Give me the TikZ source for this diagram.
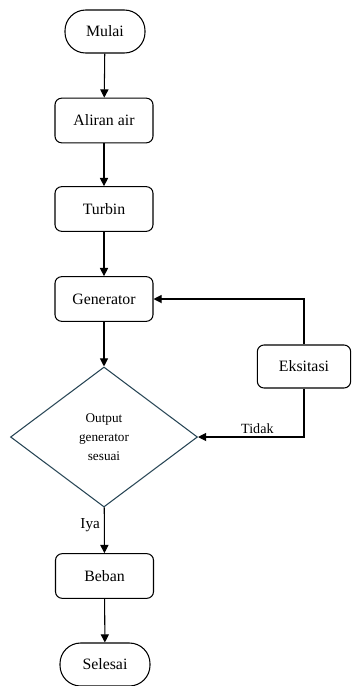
\documentclass[tikz,border=0pt]{standalone}
\usepackage{fontspec}
\setmainfont{Liberation Serif}
\usetikzlibrary{shapes,arrows.meta,positioning}
\definecolor{garisbelah}{RGB}{38,68,84}

\begin{document}
\begin{tikzpicture}[x=0.03cm, y=-0.03cm, line width=0.9pt, font=\fontsize{13.5}{16}\selectfont,
  terminal/.style={draw, rounded corners=0.62cm, minimum width=2.4cm, minimum height=1.29cm},
  prosesbox/.style={draw, rounded corners=0.2cm, minimum width=2.94cm, minimum height=1.34cm},
  keputusan/.style={draw=garisbelah, diamond, aspect=1.34, minimum width=5.61cm, minimum height=4.2cm, inner sep=0pt, align=center, font=\fontsize{11.3}{16}\selectfont},
  panah/.style={-{Triangle[width=7pt,length=7pt]}}]
\useasboundingbox (0,0) rectangle (351,686);

% main column
\node[terminal] (mulai) at (105,31.5) {Mulai};
\node[prosesbox] (aliran) at (104,120.5) {Aliran air};
\node[prosesbox] (turbin) at (104,209) {Turbin};
\node[prosesbox] (gen) at (104,299) {Generator};
\node[keputusan] (cek) at (104,437) {Output\\generator\\sesuai};
\node[prosesbox] (beban) at (104.5,576) {Beban};
\node[terminal, minimum width=2.7cm] (selesai) at (105,664.5) {Selesai};

% feedback
\node[prosesbox, minimum width=2.8cm, minimum height=1.29cm] (eks) at (304,366.5) {Eksitasi};

\draw[panah] (mulai) -- (aliran);
\draw[panah] (aliran) -- (turbin);
\draw[panah] (turbin) -- (gen);
\draw[panah] (gen) -- (cek);
\draw[panah] (cek) -- node[left, pos=0.38, font=\fontsize{13}{16}\selectfont] {Iya} (beban);
\draw[panah] (beban) -- (selesai);
\draw[panah] (eks.south) |- node[above, pos=0.72, font=\fontsize{12}{16}\selectfont, inner sep=2pt] {Tidak} (cek.east);
\draw[panah] (eks.north) |- (gen.east);
\end{tikzpicture}
\end{document}
